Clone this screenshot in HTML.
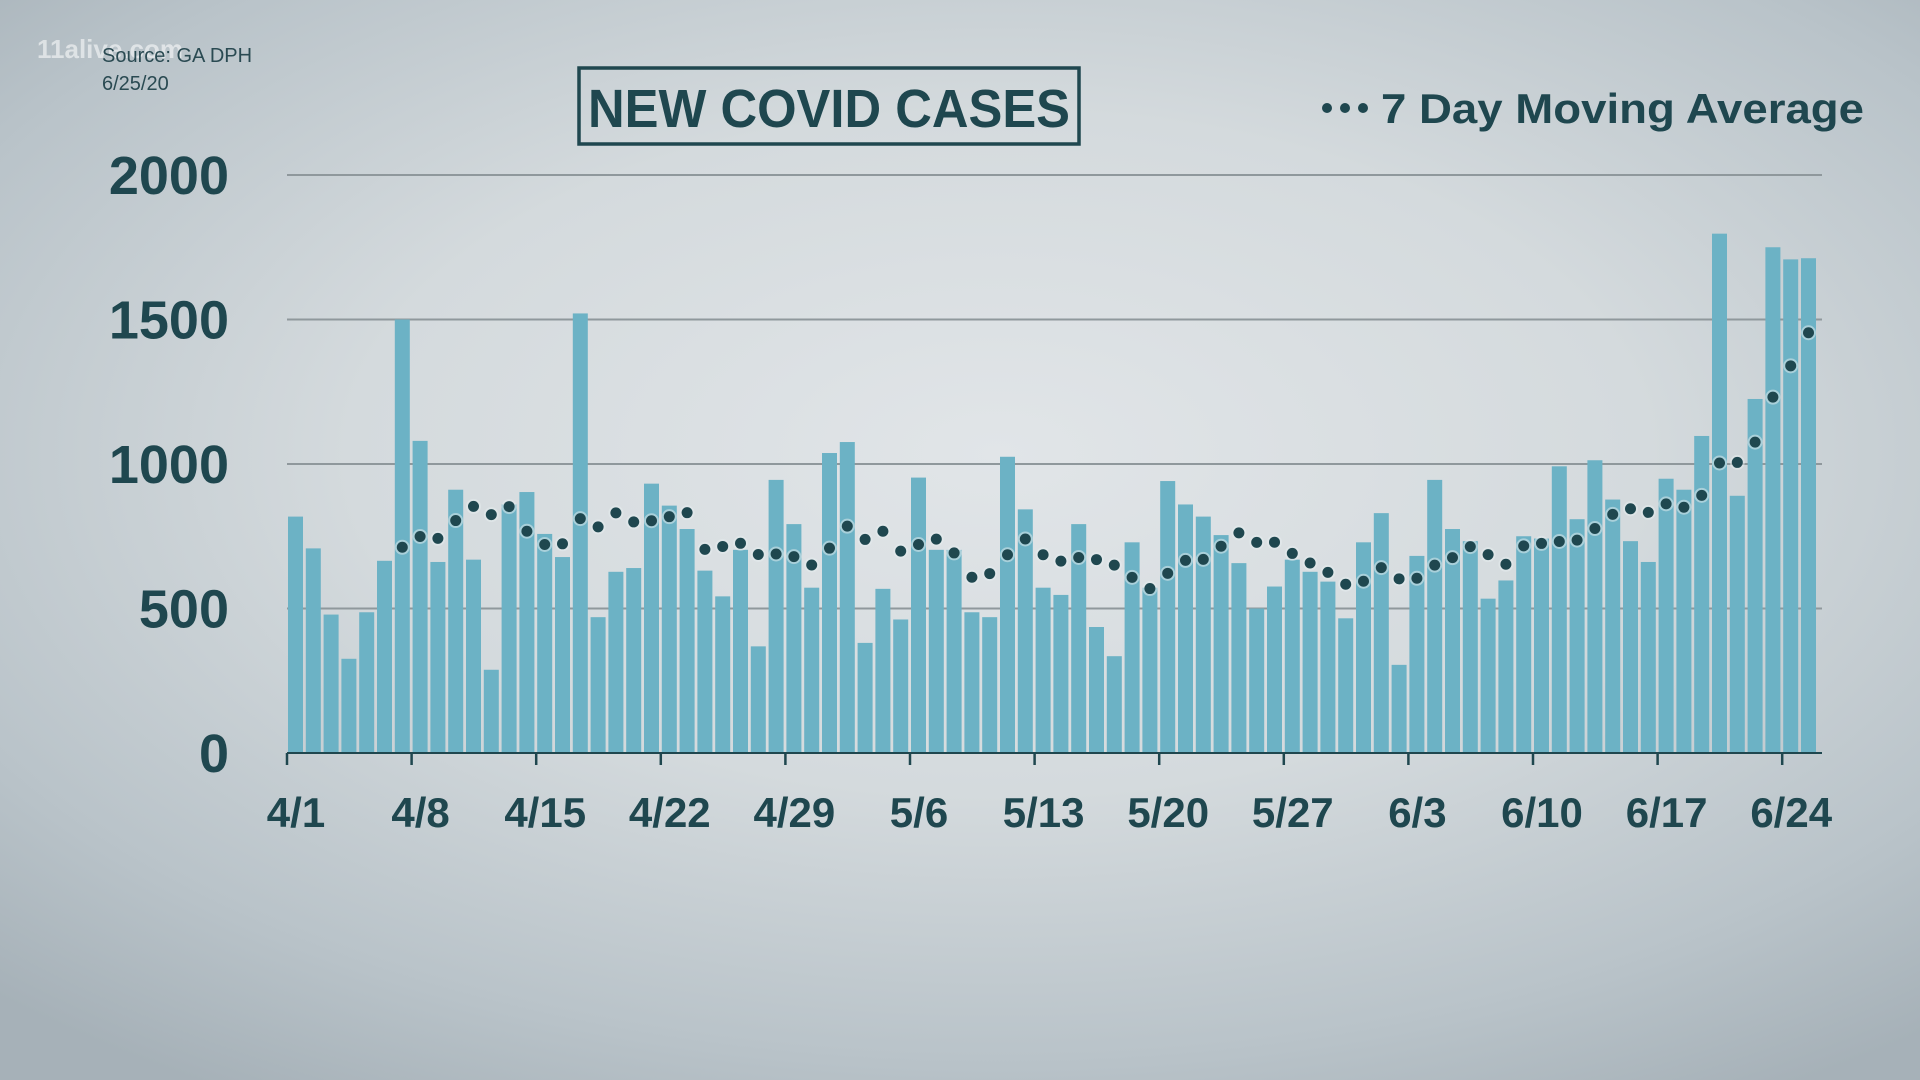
<!DOCTYPE html>
<html><head><meta charset="utf-8"><style>
html,body{margin:0;padding:0;width:1920px;height:1080px;overflow:hidden}
body{background:radial-gradient(ellipse 75% 70% at 52% 42%,#e1e5e8 0%,#d4dadd 45%,#b9c3c9 80%,#a6b1b8 100%)}
svg{position:absolute;left:0;top:0}
text{font-family:"Liberation Sans",sans-serif}
</style></head><body>
<svg width="1920" height="1080" id="s" xmlns="http://www.w3.org/2000/svg">
<text x="37" y="58" font-size="26" font-weight="bold" fill="#ffffff" fill-opacity="0.55">11alive.com</text>
<text x="102" y="62" font-size="20" fill="#2a4a52">Source: GA DPH</text>
<text x="102" y="90" font-size="20" fill="#2a4a52">6/25/20</text>
<rect x="579" y="68" width="500" height="76" fill="none" stroke="#1f474f" stroke-width="3.5"/>
<text x="829" y="127" font-size="54" font-weight="bold" fill="#1f474f" text-anchor="middle" textLength="482" lengthAdjust="spacingAndGlyphs">NEW COVID CASES</text>
<g fill="#1f474f"><circle cx="1327" cy="108" r="5"/><circle cx="1345" cy="108" r="5"/><circle cx="1363" cy="108" r="5"/></g>
<text x="1381" y="123" font-size="42" font-weight="bold" fill="#1f474f" textLength="483" lengthAdjust="spacingAndGlyphs">7 Day Moving Average</text>
<g id="g"></g>
</svg>
<script>
var v=[818,708,479,326,487,665,1500,1080,661,911,669,288,860,903,758,678,1521,470,627,640,932,856,775,631,542,703,369,945,792,572,1038,1076,381,568,462,953,703,703,487,470,1025,843,572,547,792,436,335,729,572,941,860,818,754,657,500,576,669,627,593,466,729,830,305,682,945,775,733,534,597,750,742,992,809,1013,877,733,661,949,911,1097,1797,890,1225,1750,1708,1712];
var g=document.getElementById('g'),h='';
var y0=753,k=0.289,x0=288,d=17.8;
for(var i=0;i<=4;i++){var y=y0-i*500*k;
 if(i>0)h+='<line x1="287" x2="1822" y1="'+y+'" y2="'+y+'" stroke="#8f989c" stroke-width="2"/>';
 h+='<text x="229" y="'+(y+19)+'" font-size="54" font-weight="bold" fill="#1f474f" text-anchor="end">'+(i*500)+'</text>';}
for(var i=0;i<v.length;i++){var hh=v[i]*k;h+='<rect x="'+(x0+i*d)+'" y="'+(y0-hh)+'" width="15" height="'+hh+'" fill="#6cb2c5"/>';}
h+='<line x1="287" x2="1822" y1="'+y0+'" y2="'+y0+'" stroke="#1f474f" stroke-width="2"/>';
var L=['4/1','4/8','4/15','4/22','4/29','5/6','5/13','5/20','5/27','6/3','6/10','6/17','6/24'];
for(var j=0;j<13;j++){var x=287+j*7*d;h+='<line x1="'+x+'" x2="'+x+'" y1="'+y0+'" y2="'+(y0+12)+'" stroke="#1f474f" stroke-width="2.5"/>';
 h+='<text x="'+(x+9)+'" y="827" font-size="42" font-weight="bold" fill="#1f474f" text-anchor="middle">'+L[j]+'</text>';}
for(var i=6;i<v.length;i++){var s=0;for(var m=i-6;m<=i;m++)s+=v[m];var a=s/7;var cx=x0+i*d+7.5,cy=y0-a*k;
 h+='<circle cx="'+cx+'" cy="'+cy+'" r="7.5" fill="#e6eef0" fill-opacity="0.5"/><circle cx="'+cx+'" cy="'+cy+'" r="5.5" fill="#1f474f"/>';}
g.innerHTML=h;
</script>
</body></html>
